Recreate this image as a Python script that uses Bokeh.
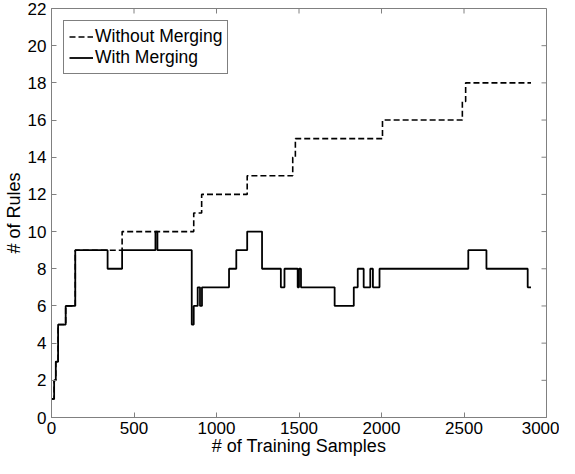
import math
from bokeh.plotting import figure
from bokeh.models import Range1d, FixedTicker, Legend, LegendItem
from bokeh.embed import file_html
from bokeh.resources import INLINE

# Without Merging: step change points (sample index) and rule counts
without_x = [0, 16, 26, 40, 86, 144, 428, 862, 910, 1186, 1462, 1478, 2006, 2490, 2510, 2906]
without_y = [1, 2, 3, 5, 6, 9, 10, 11, 12, 13, 14, 15, 16, 17, 18, 18]

# With Merging
with_x = [0, 16, 26, 40, 86, 144, 340, 428, 630, 642, 850, 862, 886, 900, 912,
          1076, 1120, 1186, 1276, 1390, 1412, 1492, 1500, 1512, 1716, 1832, 1856,
          1892, 1932, 1948, 1988, 2526, 2636, 2886, 2906]
with_y = [1, 2, 3, 5, 6, 9, 8, 9, 10, 9, 5, 6, 7, 6, 7,
          8, 9, 10, 8, 7, 8, 7, 8, 7, 6, 7, 8,
          7, 8, 7, 8, 9, 8, 7, 7]

x_ticks = [0, 500, 1000, 1500, 2000, 2500, 3000]
y_ticks = list(range(0, 23, 2))
X_MAX = 3000
Y_MAX = 22

FONT = "Liberation Sans"
FRAME = "#808080"

p = figure(width=559, height=458, output_backend="svg", toolbar_location=None,
           x_range=Range1d(0, X_MAX), y_range=Range1d(0, Y_MAX),
           min_border_left=4, min_border_right=13, min_border_top=8, min_border_bottom=0)
p.background_fill_color = "white"
p.border_fill_color = "white"
p.grid.visible = False
p.outline_line_color = FRAME
p.outline_line_width = 1

p.xaxis.axis_label = "# of Training Samples"
p.yaxis.axis_label = "# of Rules"
p.xaxis.ticker = FixedTicker(ticks=x_ticks)
p.yaxis.ticker = FixedTicker(ticks=y_ticks)
for ax in (p.xaxis, p.yaxis):
    ax.axis_line_color = FRAME
    ax.major_tick_line_color = FRAME
    ax.major_tick_in = 5
    ax.major_tick_out = 0
    ax.minor_tick_line_color = None
    ax.major_label_text_font = FONT
    ax.major_label_text_font_size = "17px"
    ax.major_label_text_color = "black"
    ax.axis_label_text_font = FONT
    ax.axis_label_text_font_size = "18px"
    ax.axis_label_text_font_style = "normal"
    ax.axis_label_text_color = "black"
p.xaxis.major_label_standoff = 4
p.xaxis.axis_label_standoff = -1
p.yaxis.major_label_standoff = 5
p.yaxis.axis_label_standoff = 1

# inward tick marks on the top and right edges of the box
p.ray(x=x_ticks, y=[Y_MAX] * len(x_ticks), length=5, length_units="screen",
      angle=-math.pi / 2, line_color=FRAME, line_width=1)
p.ray(x=[X_MAX] * len(y_ticks), y=y_ticks, length=5, length_units="screen",
      angle=math.pi, line_color=FRAME, line_width=1)

r1 = p.step(without_x, without_y, mode="after", line_color="black", line_width=1.6,
            line_dash="6 3")
r2 = p.step(with_x, with_y, mode="after", line_color="black", line_width=1.8)

legend = Legend(items=[LegendItem(label="Without Merging", renderers=[r1]),
                       LegendItem(label="With Merging", renderers=[r2])],
                location="top_left")
legend.label_text_font = FONT
legend.label_text_font_size = "17.5px"
legend.label_text_color = "black"
legend.border_line_color = "black"
legend.border_line_width = 1
legend.background_fill_alpha = 1
legend.margin = 12
legend.padding = 5
legend.spacing = 0
legend.glyph_width = 24
legend.label_standoff = 2
legend.label_height = 19
legend.glyph_height = 19
p.add_layout(legend)

open("out.html", "w").write(file_html(p, INLINE))
